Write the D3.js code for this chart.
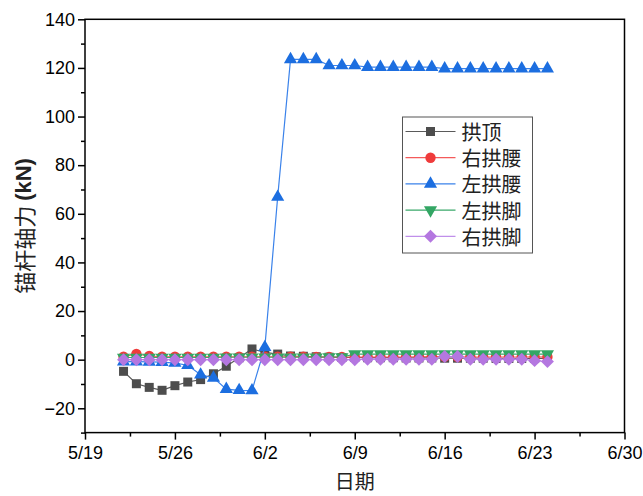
<!DOCTYPE html>
<html>
<head>
<meta charset="utf-8">
<script src="https://cdn.jsdelivr.net/npm/d3@7"></script>
<style>
  html, body { margin: 0; padding: 0; background: #fff; }
  svg { display: block; font-family: "Liberation Sans", Arial, sans-serif; }
  .cjk { font-family: "Noto Sans CJK SC", "Noto Sans", sans-serif; }
</style>
</head>
<body>
<svg id="chart" width="643" height="496"></svg>
<script>
// Daily readings, 5/22 – 6/24
const startDate = new Date(2021, 4, 22);
const dates = d3.range(34).map(i => d3.timeDay.offset(startDate, i));

const seriesNames = ["拱顶", "右拱腰", "左拱腰", "左拱脚", "右拱脚"];

const crown = [-4.8, -9.9, -11.4, -12.6, -10.7, -9.2, -8.2, -5.8, -2.7, 0.8, 4.4, 3.0, 2.3,
  1.5, 1.4, 1.2, 1.0, 0.9, 0.9, 0.8, 0.8, 0.8, 0.7, 0.7, 0.7, 0.6, 0.6, 0.6, 0.6, 0.5, 0.5, 0.5, 0.5, 0.5];
const rightHaunch = [1.2, 2.4, 1.5, 1.2, 1.2, 1.2, 1.2, 1.2, 1.2, 1.2, 1.2, 1.2, 1.2,
  1.2, 1.2, 1.1, 1.1, 1.1, 1.1, 1.1, 1.1, 1.1, 1.1, 1.2, 1.3, 1.3, 1.2, 1.1, 1.1, 1.1, 1.1, 1.1, 1.2, 1.1];
const leftHaunch = [-0.8, -0.8, -0.9, -1.0, -1.4, -2.3, -6.2, -7.5, -12.1, -12.6, -12.7, 5.1, 66.9,
  123.5, 123.5, 123.5, 121.0, 121.0, 121.0, 120.3, 120.3, 120.3, 120.3, 120.3, 120.3,
  119.7, 119.7, 119.7, 119.7, 119.7, 119.7, 119.7, 119.7, 119.7];
const leftFoot = [0.9, 0.9, 0.9, 0.9, 0.9, 0.9, 0.9, 0.9, 1.0, 1.0, 1.0, 1.0, 1.0,
  1.0, 1.0, 1.0, 1.1, 1.1, 2.3, 2.3, 2.3, 2.3, 2.3, 2.3, 2.3, 2.3, 2.3, 2.3, 2.3, 2.3, 2.3, 2.3, 2.3, 2.3];
const rightFoot = [0, 0, 0, 0, 0, 0, 0, 0, 0, 0, 0, 0, 0,
  0, 0, 0, 0, 0, 0, 0.2, 0.2, 0.2, 0.2, 0.2, 0.2, 1.3, 1.3, 0.2, 0.2, 0.2, 0.2, 0.2, -0.4, -0.8];

const xTickLabels = ["5/19", "5/26", "6/2", "6/9", "6/16", "6/23", "6/30"];
const yTicks = [-20, 0, 20, 40, 60, 80, 100, 120, 140];

const seriesValues = [crown, rightHaunch, leftHaunch, leftFoot, rightFoot];
const colors = ["#4d4d4d", "#ef3b3b", "#1c6ee0", "#33a664", "#b477e0"];
const lineColors = ["#5a5a5a", "#f45a5a", "#3a82ea", "#3aa86a", "#c08fea"];
const symbols = ["square", "circle", "triangle", "triangleDown", "diamond"];

const svg = d3.select("#chart");
const margin = { left: 85, right: 18.5, top: 19.3, bottom: 63.4 };
const W = 643, H = 496;

const x = d3.scaleTime()
  .domain([new Date(2021, 4, 19), new Date(2021, 5, 30)])
  .range([margin.left, W - margin.right]);
const y = d3.scaleLinear()
  .domain([-30, 140])
  .range([H - margin.bottom, margin.top]);

const parseTick = s => { const [m, d] = s.split("/").map(Number); return new Date(2021, m - 1, d); };
const xMajor = xTickLabels.map(parseTick);
const xMinor = xMajor.slice(0, -1).map(d => d3.timeHour.offset(d, 84));

const plotL = margin.left, plotR = W - margin.right, plotT = margin.top, plotB = H - margin.bottom;

// axes
const xAxis = d3.axisBottom(x).tickValues(xMajor).tickSize(7).tickSizeOuter(0)
  .tickFormat((d, i) => xTickLabels[i]);
const gx = svg.append("g").attr("transform", `translate(0,${plotB})`).call(xAxis);
gx.select(".domain").remove();
gx.selectAll(".tick line").attr("stroke", "#000").attr("stroke-width", 1.5);
gx.selectAll(".tick text").attr("font-size", 18).attr("fill", "#000").attr("dy", "0.9em")
  .attr("font-family", "'Liberation Sans', Arial, sans-serif");
svg.append("g").attr("transform", `translate(0,${plotB})`)
  .call(d3.axisBottom(x).tickValues(xMinor).tickSize(4).tickFormat(""))
  .call(g => g.select(".domain").remove())
  .selectAll(".tick line").attr("stroke", "#000").attr("stroke-width", 1.5);

const yAxis = d3.axisLeft(y).tickValues(yTicks).tickSize(7).tickPadding(3);
const gy = svg.append("g").attr("transform", `translate(${plotL},0)`).call(yAxis);
gy.select(".domain").remove();
gy.selectAll(".tick line").attr("stroke", "#000").attr("stroke-width", 1.5);
gy.selectAll(".tick text").attr("font-size", 18).attr("fill", "#000")
  .attr("font-family", "'Liberation Sans', Arial, sans-serif");
svg.append("g").attr("transform", `translate(${plotL},0)`)
  .call(d3.axisLeft(y).tickValues(d3.range(-30, 141, 10).filter(v => v % 20 !== 0)).tickSize(4).tickFormat(""))
  .call(g => g.select(".domain").remove())
  .selectAll(".tick line").attr("stroke", "#000").attr("stroke-width", 1.5);

// plot frame
svg.append("rect")
  .attr("x", plotL).attr("y", plotT)
  .attr("width", plotR - plotL).attr("height", plotB - plotT)
  .attr("fill", "none").attr("stroke", "#000").attr("stroke-width", 1.5);

// axis titles
svg.append("text").attr("class", "cjk")
  .attr("x", (plotL + plotR) / 2).attr("y", 489)
  .attr("text-anchor", "middle")
  .attr("font-size", 20).attr("fill", "#222").text("日期");

const yt = svg.append("text")
  .attr("transform", `translate(23,${(plotT + plotB) / 2}) rotate(-90)`)
  .attr("text-anchor", "middle").attr("dominant-baseline", "central")
  .attr("font-size", 22).attr("fill", "#222");
yt.append("tspan").attr("class", "cjk").text("锚杆轴力 ");
yt.append("tspan").attr("font-weight", "bold").attr("font-family", "'Liberation Sans', Arial, sans-serif").text("(kN)");

// marker shapes
function symbolPath(type) {
  switch (type) {
    case "square": return d3.symbol(d3.symbolSquare, 81)();
    case "circle": return d3.symbol(d3.symbolCircle, 85)();
    case "triangle": return d3.symbol(d3.symbolTriangle, 75)();
    case "triangleDown": return d3.symbol(d3.symbolTriangle, 75)();
    case "diamond": return d3.symbol(d3.symbolSquare, 84)();
  }
}
function symbolRotate(type) {
  if (type === "triangleDown") return 180;
  if (type === "diamond") return 45;
  return 0;
}

const line = d3.line().x((d, i) => x(dates[i])).y(d => y(d));

const plot = svg.append("g");
seriesValues.forEach((vals, s) => {
  const g = plot.append("g");
  g.append("path").datum(vals).attr("d", line)
    .attr("fill", "none").attr("stroke", lineColors[s]).attr("stroke-width", 1.2);
  g.selectAll("path.m").data(vals).join("path").attr("class", "m")
    .attr("d", symbolPath(symbols[s]))
    .attr("transform", (d, i) => `translate(${x(dates[i])},${y(d)}) rotate(${symbolRotate(symbols[s])})`)
    .attr("fill", colors[s]);
});

// legend
const lg = svg.append("g");
const lgX = 402.5, lgY = 117, lgW = 130, lgH = 136;
lg.append("rect").attr("x", lgX).attr("y", lgY).attr("width", lgW).attr("height", lgH)
  .attr("fill", "#fff").attr("stroke", "#555").attr("stroke-width", 1);
seriesNames.forEach((name, s) => {
  const cy = lgY + 14.5 + s * 26.2;
  lg.append("line").attr("x1", lgX + 3).attr("x2", lgX + 53).attr("y1", cy).attr("y2", cy)
    .attr("stroke", lineColors[s]).attr("stroke-width", 1.2);
  lg.append("path").attr("d", symbolPath(symbols[s]))
    .attr("transform", `translate(${lgX + 28},${cy}) rotate(${symbolRotate(symbols[s])})`)
    .attr("fill", colors[s]);
  lg.append("text").attr("class", "cjk").attr("x", lgX + 59).attr("y", cy)
    .attr("dominant-baseline", "central").attr("font-size", 20).attr("fill", "#222").text(name);
});
</script>
</body>
</html>
